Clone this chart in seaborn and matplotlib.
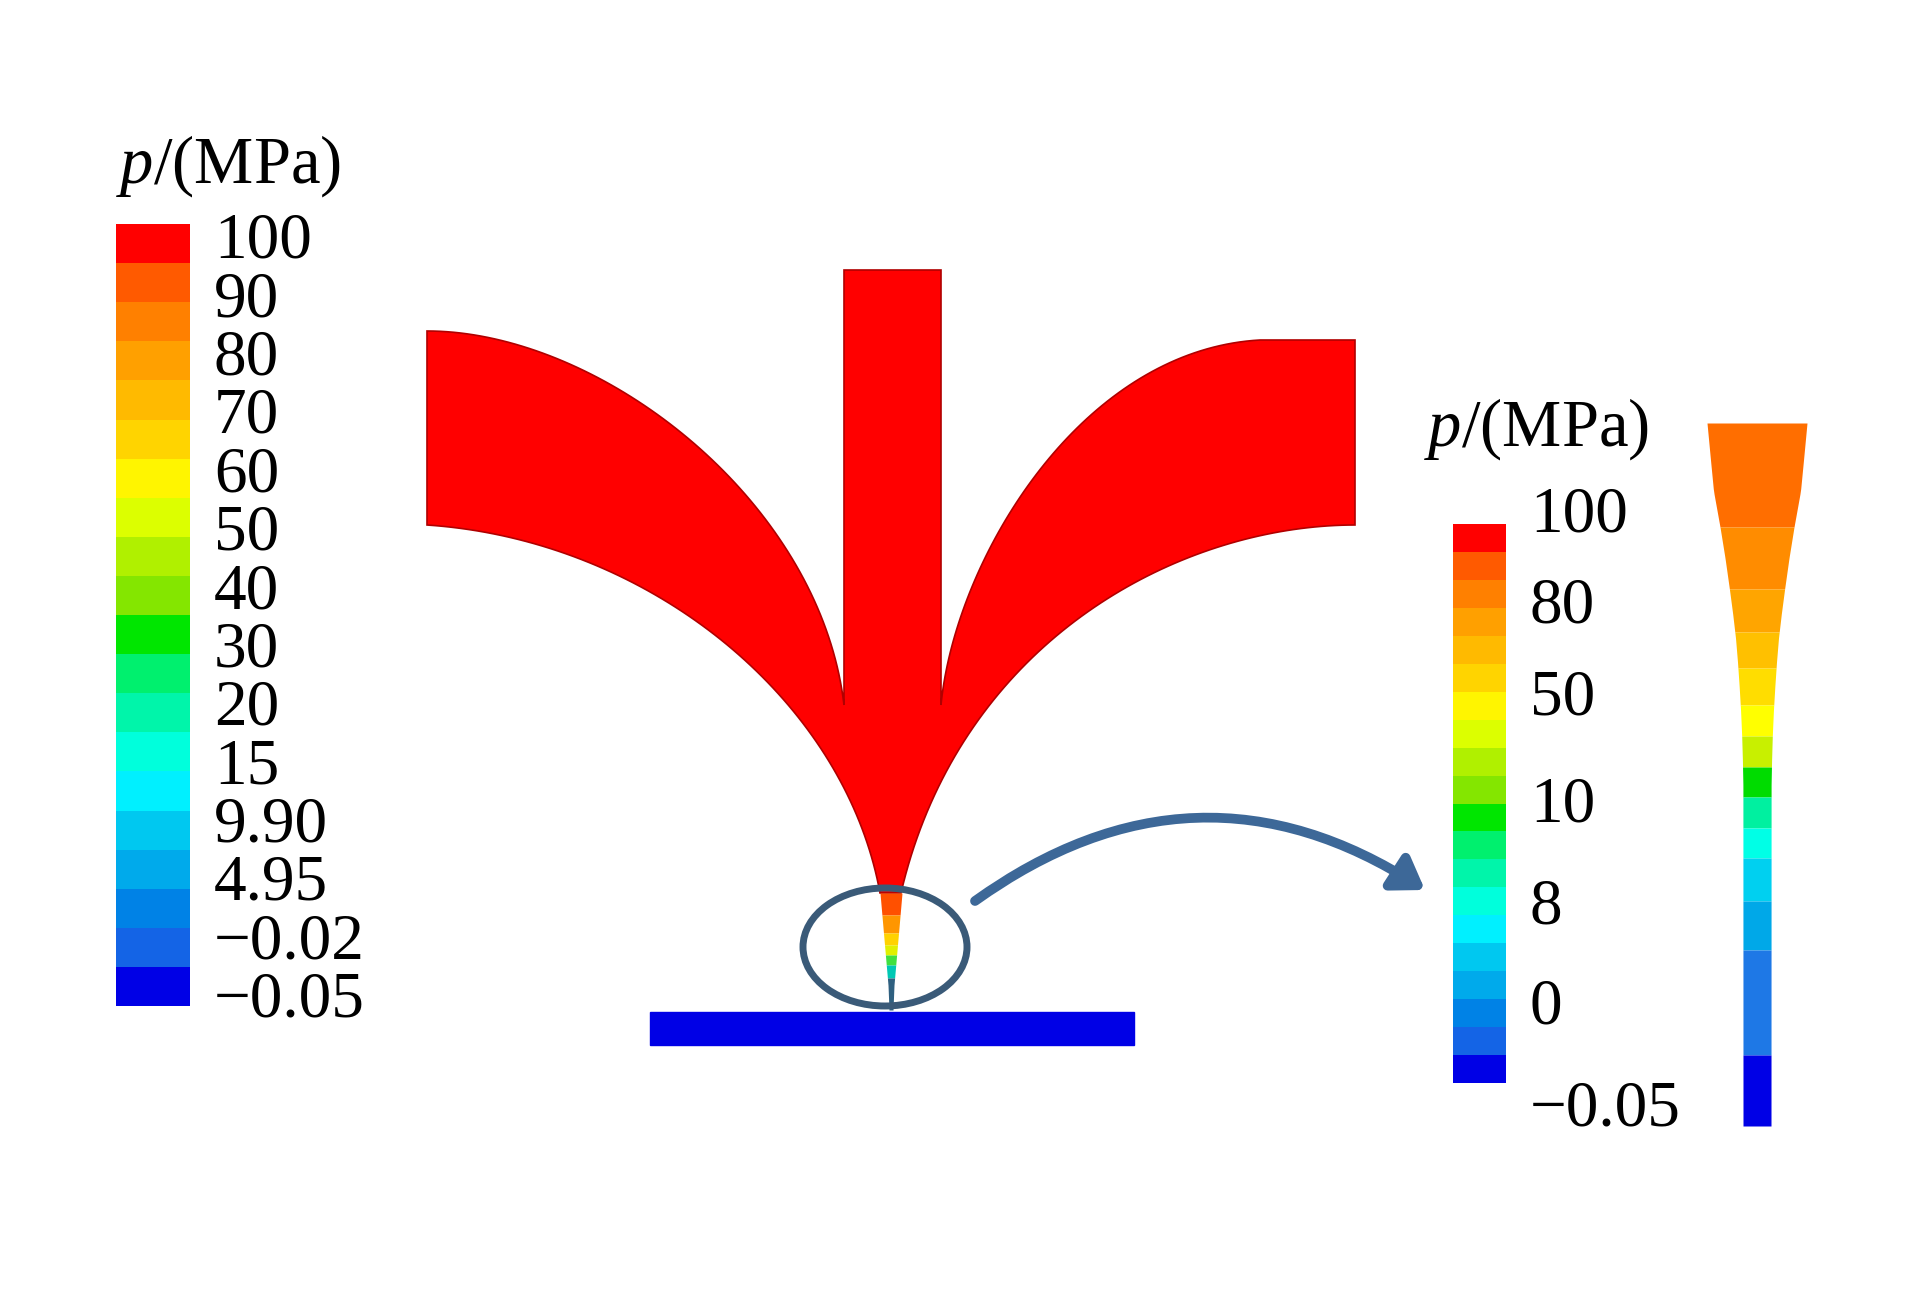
import numpy as np
import matplotlib
matplotlib.use('Agg')
import matplotlib.pyplot as plt
import seaborn as sns
from matplotlib.colors import ListedColormap
from matplotlib.patches import Ellipse, Rectangle

# pressure legend bands, high (top) to low (bottom)
band_colors = ['#FF0000', '#FF5A00', '#FF8000', '#FFA000', '#FFBA00',
               '#FFD400', '#FFF500', '#DCFF00', '#B0F000', '#84E600',
               '#00E600', '#00F06E', '#00F5AA', '#00FFDC', '#00F0FF',
               '#00C8F0', '#00AAEB', '#0082E6', '#1464E6', '#0000E6']
left_labels = ['100', '90', '80', '70', '60', '50', '40', '30', '20', '15',
               '9.90', '4.95', '\u22120.02', '\u22120.05']
right_labels = ['100', '80', '50', '10', '8', '0', '\u22120.05']
legend_title = '$p$/(MPa)'

# close-up of the jet tail, colours top to bottom
jet_colors = ['#FF6E00', '#FF8C00', '#FFA500', '#FFC000', '#FFDD00', '#FFFF00',
              '#C8F000', '#00DC00', '#00F0A0', '#00FFE6', '#00D0F0', '#00A8E8',
              '#1E78E6', '#0000E6']
# thin tail under the nozzle tip (inside the circle)
tip_colors = ['#FF5000', '#FF9600', '#FFD200', '#E0F000', '#40E040', '#00C8B4', '#2F6080']

W, H = 1923, 1299

sns.set_style('white')
plt.rcParams['font.family'] = ['Liberation Serif', 'DejaVu Serif']
plt.rcParams['mathtext.fontset'] = 'custom'
plt.rcParams['mathtext.rm'] = 'Liberation Serif'
plt.rcParams['mathtext.it'] = 'Liberation Serif:italic'
plt.rcParams['text.color'] = 'black'

fig = plt.figure(figsize=(W / 100, H / 100), dpi=100)
fig.patch.set_facecolor('white')
ax = fig.add_axes([0, 0, 1, 1])
ax.set_xlim(0, W)
ax.set_ylim(H, 0)
ax.axis('off')


def bez(p0, p1, p2, p3, n=80):
    t = np.linspace(0, 1, n)[:, None]
    p0, p1, p2, p3 = map(np.array, (p0, p1, p2, p3))
    return (1 - t) ** 3 * p0 + 3 * (1 - t) ** 2 * t * p1 + 3 * (1 - t) * t ** 2 * p2 + t ** 3 * p3


# main red flow region: nozzle column + two curved wings
pts = [np.array([[844, 270], [941, 270], [941, 705]])]
pts.append(bez((941, 705), (955, 560), (1080, 350), (1260, 340)))
pts.append(np.array([[1355, 340], [1355, 525]]))
pts.append(bez((1355, 525), (1180, 525), (960, 640), (901, 893)))
pts.append(bez((880, 893), (845, 700), (650, 540), (427, 525)))
pts.append(np.array([[427, 331]]))
pts.append(bez((427, 331), (600, 331), (820, 500), (844, 705)))
poly = np.vstack(pts)
ax.fill(poly[:, 0], poly[:, 1], color='#FF0000', ec='#B00000', lw=1.2, zorder=2)

# thin coloured tail under the tip
tip_edges = [893, 915, 933, 945, 955, 965, 978, 1010]
tip_prof_y = [893, 985, 1010]
tip_prof_h = [11, 3, 2]
for c, y0, y1 in zip(tip_colors, tip_edges[:-1], tip_edges[1:]):
    ys = np.linspace(y0, y1, 10)
    hw = np.interp(ys, tip_prof_y, tip_prof_h)
    ax.fill_betweenx(ys, 891 - hw, 891 + hw, color=c, lw=0, zorder=3)

# substrate plate
ax.add_patch(Rectangle((650, 1012), 484, 33, color='#0000E6', zorder=2))

# marking ellipse
ax.add_patch(Ellipse((885, 947), 164, 118, fill=False, ec='#3A5A78', lw=5, zorder=4))

# curved arrow to the close-up
ax.annotate('', xy=(1425, 890), xytext=(975, 901),
            arrowprops=dict(arrowstyle='-|>,head_length=0.45,head_width=0.3', lw=7,
                            color='#3D6898', connectionstyle='arc3,rad=-0.34',
                            mutation_scale=40, shrinkA=0, shrinkB=0), zorder=4)

# close-up of the tapered jet
jet_edges = [423, 527, 589, 632, 668, 705, 736, 767, 797, 828, 858, 901, 950, 1055, 1126]
prof_y = [423, 460, 491, 527, 558, 589, 614, 638, 662, 687, 711, 736, 760, 785, 1126]
prof_h = [50, 46.5, 43.5, 37, 32, 27.6, 24.3, 21.5, 19.5, 17.8, 16.4, 15.3, 14.6, 14.1, 14]
for c, y0, y1 in zip(jet_colors, jet_edges[:-1], jet_edges[1:]):
    ys = np.linspace(y0, y1, 20)
    hw = np.interp(ys, prof_y, prof_h)
    ax.fill_betweenx(ys, 1757 - hw, 1757 + hw, color=c, lw=0, zorder=2)

# colour legends drawn as one-column heatmaps
cmap = ListedColormap(band_colors)
bands = np.arange(len(band_colors)).reshape(-1, 1)


def legend_bar(x0, y0, w, h):
    cax = fig.add_axes([x0 / W, 1 - (y0 + h) / H, w / W, h / H])
    sns.heatmap(bands, cmap=cmap, vmin=-0.5, vmax=len(band_colors) - 0.5,
                cbar=False, xticklabels=False, yticklabels=False, ax=cax)
    cax.set_axis_off()
    return cax


legend_bar(116, 224, 74, 782)
legend_bar(1453, 524, 53, 559)

fs = 47
for lab, y in zip(left_labels, np.linspace(242, 1001, len(left_labels))):
    ax.text(214, y, lab, fontsize=fs, va='center', ha='left')
for lab, y in zip(right_labels, [516, 607, 699, 806, 908, 1008, 1110]):
    ax.text(1530, y, lab, fontsize=fs, va='center', ha='left')

ax.text(116, 166, legend_title, fontsize=fs + 1, va='center', ha='left')
ax.text(1424, 429, legend_title, fontsize=fs + 1, va='center', ha='left')

fig.savefig('out.png', dpi=100, facecolor='white')
